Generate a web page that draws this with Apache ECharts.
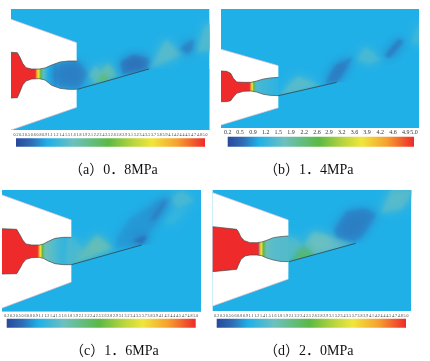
<!DOCTYPE html>
<html><head><meta charset="utf-8">
<style>html,body{margin:0;padding:0;background:#fff}#c{width:430px;height:361px}</style>
<script src="https://cdn.jsdelivr.net/npm/echarts@6/dist/echarts.min.js"></script>
</head><body><div id="c"></div>
<script>
// colour scale (Mach number)
const scaleValues=[0.2,0.6,1.0,1.65,2.55,3.2,3.65,4.3,5.0];
const scaleColors=['#27499b','#2f6db6','#1fb0e8','#6dc0c0','#5cb944','#bdd63e','#f0e63c','#f6a030','#ee2a2a'];
// colour bar tick labels
const ticksFine=['0.2','0.3','0.5','0.6','0.8','0.9','1.1','1.2','1.4','1.5','1.6','1.8','1.9','2.1','2.2','2.4','2.5','2.6','2.8','2.9','3.1','3.2','3.4','3.5','3.7','3.8','3.9','4.1','4.2','4.4','4.5','4.7','4.8','5.0'];
const ticksCoarseValues=[0.2,0.52,0.85,1.18,1.5,1.83,2.17,2.5,2.81,3.14,3.47,3.79,4.13,4.46,4.79,5.0];
const ticksCoarseLabels=['0.2','0.5','0.9','1.2','1.5','1.9','2.2','2.6','2.9','3.2','3.6','3.9','4.2','4.6','4.9','5.0'];
const captions=['（a）0．8MPa','（b）1．4MPa','（c）1．6MPa','（d）2．0MPa'];
// Panel a
const upperA=[[33,58],[230,128],[230,183],[205,183],[180,186],[155,195],[135,204],[118,207],[95,207],[78,203],[68,190],[60,172],[52,158],[33,157]];
const lowerA=[[33,390],[230,322],[230,268],[205,268],[180,265],[155,256],[135,240],[118,236],[95,237],[78,243],[68,255],[60,275],[52,293],[33,294]];
const rampA=[[232,268],[447,207]];
const throatA=[[106,5],[110,4.3],[116,3.6],[122,2.5],[130,1.5],[145,1.0],[170,0.8]];
const patchesA=[
 [0.7,[[175,192],[232,183],[265,222],[235,265],[175,258],[160,225]]],
 [1.6,[[268,224],[288,197],[305,222],[285,250]]],
 [1.75,[[305,212],[325,190],[350,224],[290,252]]],
 [2.5,[[292,250],[310,222],[326,234]]],
 [0.6,[[362,185],[400,165],[448,176],[442,207],[368,222]]],
 [1.5,[[452,205],[497,118],[545,165],[500,182]]],
 [0.65,[[540,145],[582,116],[579,148],[562,162]]],
 [1.45,[[592,155],[618,72],[640,72],[640,150]]]];
// Panel b
const upperB=[[18,148],[190,197],[190,232],[165,234],[145,237],[125,243],[108,247],[85,247],[65,246],[55,235],[47,220],[35,214],[18,213]];
const lowerB=[[18,375],[190,323],[190,287],[165,286],[145,283],[125,276],[108,273],[85,274],[65,280],[55,291],[47,302],[35,305],[18,305]];
const rampB=[[190,287],[365,247]];
const throatB=[[104,5],[108,4.2],[112,3.6],[116,2.5],[124,1.4],[140,1.3],[190,1.1]];
const patchesB=[
 [1.55,[[190,287],[248,230],[315,255],[290,262]]],
 [0.65,[[330,250],[362,195],[415,170],[368,246]]],
 [1.4,[[425,180],[450,140],[500,180],[460,190]]],
 [0.6,[[508,168],[550,118],[567,122],[525,174]]],
 [1.3,[[590,130],[612,72],[630,72],[630,135]]]];
// Panel c
const upperC=[[6,45],[214,120],[214,172],[190,172],[165,175],[145,184],[130,192],[118,195],[95,195],[78,192],[68,180],[60,165],[50,148],[6,146]];
const lowerC=[[6,384],[214,306],[214,254],[190,254],[165,251],[145,243],[130,235],[118,232],[95,233],[78,238],[68,250],[60,265],[50,281],[6,282]];
const rampC=[[214,254],[425,195]];
const throatC=[[113,5],[118,4.2],[122,3.6],[127,2.5],[135,1.7],[165,1.4],[195,1.1],[214,1.3]];
const patchesC=[
 [1.35,[[205,172],[225,175],[250,215],[214,254],[195,250]]],
 [1.75,[[214,254],[290,165],[340,205],[300,218]]],
 [0.85,[[350,178],[392,115],[490,55],[525,50],[478,110],[428,192],[350,205]]],
 [0.45,[[398,182],[430,168],[442,172],[426,192]]],
 [0.65,[[448,125],[490,60],[502,64],[468,118]]],
 [1.4,[[515,55],[545,32],[582,62],[530,85]]],
 [1.2,[[490,130],[530,85],[560,90],[520,132]]]];
// Panel d
const upperD=[[-7,38],[220,120],[220,168],[195,170],[175,173],[155,181],[140,186],[125,188],[105,188],[88,182],[78,172],[70,155],[65,148],[-7,140]];
const lowerD=[[-7,378],[220,297],[220,245],[195,244],[175,240],[155,234],[140,227],[125,225],[105,225],[90,228],[78,238],[70,255],[65,268],[-7,275]];
const rampD=[[222,245],[422,190]];
const throatD=[[130,5],[135,4.2],[139,3.6],[145,2.5],[155,1.7],[170,1.5],[220,1.4]];
const patchesD=[
 [1.45,[[215,168],[240,175],[265,197],[222,245],[205,240]]],
 [1.65,[[268,195],[295,155],[350,172],[412,190],[300,225]]],
 [2.4,[[225,245],[265,202],[300,226]]],
 [0.7,[[358,150],[396,94],[450,86],[484,102],[442,168],[418,184],[366,172]]],
 [1.5,[[497,100],[530,28],[600,28],[562,85]]]];

// layout of panels and bars in page pixels
const panels=[
 {box:[11,9,198.3,121],dom:[33,628,27,390],upper:upperA,lower:lowerA,ramp:rampA,throat:throatA,patches:patchesA,bar:[16,138.3,189,8.4],fine:true,cap:[69,163]},
 {box:[221,9,198,119],dom:[18,612,27,384],upper:upperB,lower:lowerB,ramp:rampB,throat:throatB,patches:patchesB,bar:[227.7,136.7,186.3,10],fine:false,cap:[264,163]},
 {box:[2,190,199,121.7],dom:[6,603,30,395],upper:upperC,lower:lowerC,ramp:rampC,throat:throatC,patches:patchesC,bar:[6.7,318.7,189,9],fine:true,cap:[70,344]},
 {box:[212.7,190,198.3,121],dom:[-7,588,30,393],upper:upperD,lower:lowerD,ramp:rampD,throat:throatD,patches:patchesD,bar:[216.7,318.7,189.3,9],fine:true,cap:[264,344]}
];
const BG=1.0, SOFT_WIDE=11, SOFT_TIGHT=3, OFF=2000, FONT='"Liberation Serif","Noto Sans CJK SC",serif';

function colorOf(m){
 for(let i=1;i<scaleValues.length;i++){
  if(m<=scaleValues[i]){
   const t=(m-scaleValues[i-1])/(scaleValues[i]-scaleValues[i-1]);
   return echarts.color.lerp(Math.max(0,t),[scaleColors[i-1],scaleColors[i]]);
  }
 }
 return scaleColors[scaleColors.length-1];
}
const barStops=scaleValues.map((v,i)=>({offset:(v-0.2)/4.8,color:scaleColors[i]}));

function panelRender(p){
 return function(params,api){
  const co=q=>api.coord(q);
  const kids=[];
  const [x0,x1,y0,y1]=p.dom;
  const a=co([x0,y0]),b=co([x1,y1]);
  const bg=colorOf(BG);
  kids.push({type:'rect',shape:{x:a[0],y:a[1],width:b[0]-a[0],height:b[1]-a[1]},style:{fill:bg}});
  // nozzle interior
  const t0=p.throat[0][0],t1=p.throat[p.throat.length-1][0];
  const L=co([t0,y0])[0],R=co([t1,y0])[0];
  const yA=co([x0,p.upper[p.upper.length-1][1]])[1],yB=co([x0,p.lower[p.lower.length-1][1]])[1];
  kids.push({type:'rect',shape:{x:a[0],y:yA,width:L-a[0],height:yB-yA},style:{fill:colorOf(5)}});
  kids.push({type:'rect',shape:{x:L,y:yA,width:R-L,height:yB-yA},style:{fill:new echarts.graphic.LinearGradient(0,0,1,0,
    p.throat.map(s=>({offset:(s[0]-t0)/(t1-t0),color:colorOf(s[1])})))}});
  // soft patches of the flow field: a wide faded layer under a tighter one
  p.patches.forEach(([m,pts])=>{
   const c=colorOf(m);
   const shifted=pts.map(q=>{const r=co(q);return [r[0]-OFF,r[1]];});
   kids.push({type:'polygon',shape:{points:shifted},style:{fill:c,shadowColor:c,shadowBlur:SOFT_WIDE,shadowOffsetX:OFF}});
   kids.push({type:'polygon',shape:{points:shifted},style:{fill:c,shadowColor:c,shadowBlur:SOFT_TIGHT,shadowOffsetX:OFF,opacity:0.55}});
  });
  // flow below the ramp is undisturbed
  const r0=p.ramp[0],r1=p.ramp[1];
  kids.push({type:'polygon',shape:{points:[r0,r1,[x1,r1[1]],[x1,y1],[r0[0],y1]].map(co)},style:{fill:bg}});
  // nozzle walls
  [p.upper,p.lower].forEach(w=>{
   kids.push({type:'polygon',shape:{points:w.map(co)},style:{fill:'#fff'}});
   kids.push({type:'polyline',shape:{points:w.slice(2).map(co)},style:{fill:null,stroke:'#4a4a4a',lineWidth:0.7}});
   kids.push({type:'polyline',shape:{points:w.slice(0,2).map(co)},style:{fill:null,stroke:'#f0c4d0',lineWidth:0.7}});
  });
  kids.push({type:'line',shape:{x1:co(r0)[0],y1:co(r0)[1],x2:co(r1)[0],y2:co(r1)[1]},style:{stroke:'#333',lineWidth:0.7}});
  return {type:'group',children:kids};
 };
}
function barRender(params,api){
 const s=params.coordSys;
 return {type:'rect',shape:{x:s.x,y:s.y,width:s.width,height:s.height},
   style:{fill:new echarts.graphic.LinearGradient(0,0,1,0,barStops)}};
}
const grid=[],xAxis=[],yAxis=[],series=[],title=[];
panels.forEach((p,i)=>{
 grid.push({left:p.box[0],top:p.box[1],width:p.box[2],height:p.box[3]});
 xAxis.push({type:'value',gridIndex:grid.length-1,min:p.dom[0],max:p.dom[1],show:false});
 yAxis.push({type:'value',gridIndex:grid.length-1,min:p.dom[2],max:p.dom[3],inverse:true,show:false});
 series.push({type:'custom',xAxisIndex:grid.length-1,yAxisIndex:grid.length-1,clip:true,silent:true,data:[[0,0]],renderItem:panelRender(p)});
});
panels.forEach((p,i)=>{
 grid.push({left:p.bar[0],top:p.bar[1],width:p.bar[2],height:p.bar[3]});
 const label={show:true,margin:1,color:'#333',fontFamily:FONT,hideOverlap:false};
 if(p.fine){
  xAxis.push({type:'category',gridIndex:grid.length-1,position:'top',data:ticksFine,boundaryGap:false,
   axisLine:{show:false},axisTick:{show:false},axisLabel:{...label,fontSize:4,interval:0}});
 }else{
  xAxis.push({type:'value',gridIndex:grid.length-1,position:'top',min:0.2,max:5,splitLine:{show:false},
   axisLine:{show:false},axisTick:{show:false},
   axisLabel:{...label,fontSize:6,customValues:ticksCoarseValues,showMinLabel:true,showMaxLabel:true,
     formatter:(v)=>ticksCoarseLabels[ticksCoarseValues.indexOf(v)]}});
 }
 yAxis.push({type:'value',gridIndex:grid.length-1,min:0,max:1,show:false});
 series.push({type:'custom',xAxisIndex:grid.length-1,yAxisIndex:grid.length-1,silent:true,data:[[0,0]],renderItem:barRender});
 title.push({text:captions[i],left:p.cap[0],top:p.cap[1],padding:0,textStyle:{fontFamily:FONT,fontWeight:'normal',fontSize:14,color:'#111'}});
});
const chart=echarts.init(document.getElementById('c'),null,{renderer:'canvas'});
chart.setOption({animation:false,backgroundColor:'#fff',title,grid,xAxis,yAxis,series});
</script></body></html>
